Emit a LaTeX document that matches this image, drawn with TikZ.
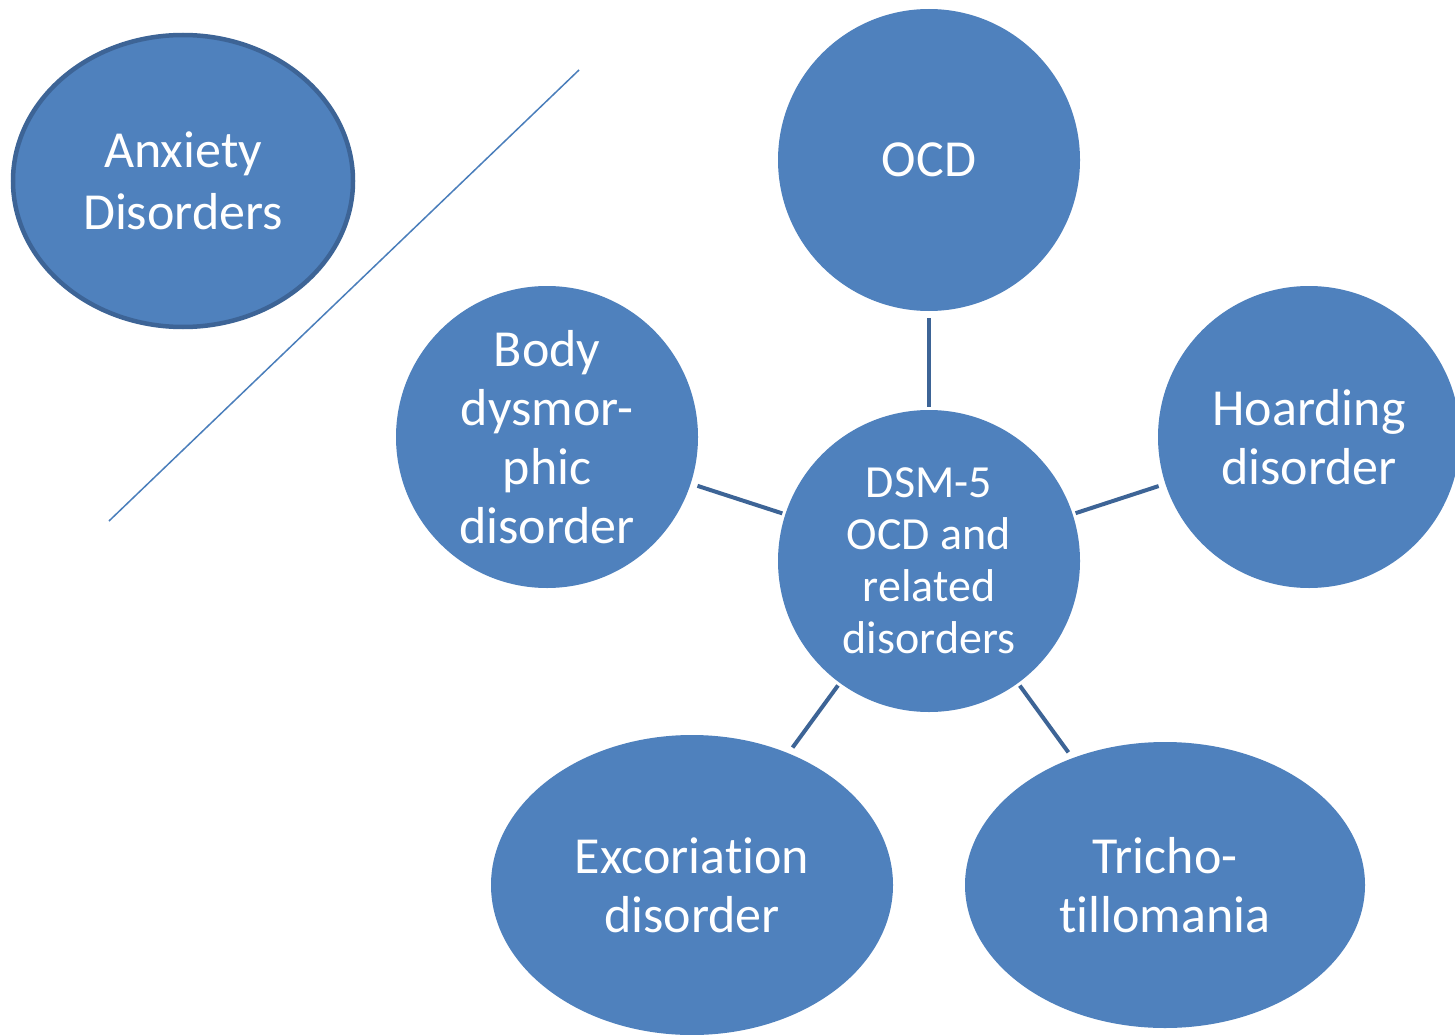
\documentclass[tikz,border=0pt]{standalone}
\usepackage{fontspec}
\setmainfont[RawFeature={-liga;-clig;-calt;-dlig}]{Carlito}
\usetikzlibrary{shapes.geometric}
\definecolor{fillblue}{HTML}{4F81BD}
\definecolor{edgeblue}{HTML}{3D6496}
\definecolor{lineblue}{HTML}{4A7EBB}
\begin{document}
\begin{tikzpicture}[x=1pt,y=-1pt,
  bubble/.style={circle, fill=fillblue, minimum size=302pt, inner sep=0pt, text=white, align=center, font=\fontsize{52}{59}\selectfont},
  oval/.style={ellipse, fill=fillblue, inner sep=0pt, text=white, align=center, font=\fontsize{52}{59}\selectfont},
  hub/.style={circle, fill=fillblue, minimum size=302pt, inner sep=0pt, text=white, align=center, font=\fontsize{46}{52}\selectfont},
  link/.style={draw=edgeblue, line width=4pt, shorten <=3pt, shorten >=7pt},
  divider/.style={draw=lineblue, line width=1.5pt}]
\useasboundingbox (0,0) rectangle (1455,1035);
\fill[white] (0,0) rectangle (1455,1035);

\node[oval, draw=edgeblue, line width=4.5pt, minimum width=340pt, minimum height=292pt, font=\fontsize{52}{62}\selectfont] (anx) at (183,181) {Anxiety\\Disorders};

\node[bubble] (ocd) at (929,160) {OCD};
\node[bubble] (bdd) at (547,437) {Body\\dysmor-\\phic\\disorder};
\node[bubble] (hoard) at (1309,437) {Hoarding\\disorder};
\node[hub] (c) at (929,561) {DSM-5\\OCD and\\related\\disorders};
\node[oval, minimum width=402pt, minimum height=300pt] (exc) at (692,885) {Excoriat\kern0pt ion\\disorder};
\node[oval, minimum width=400pt, minimum height=286pt] (tri) at (1165,885) {Tricho-\\t\kern0pt illomania};

\draw[link] (c) -- (ocd);
\draw[link] (c) -- (bdd);
\draw[link] (c) -- (hoard);
\draw[link] (c) -- (exc);
\draw[link] (c) -- (tri);

\coordinate (d1) at (579,70);
\coordinate (d2) at (109,521);
\draw[divider] (d1) -- (d2);
\end{tikzpicture}
\end{document}
